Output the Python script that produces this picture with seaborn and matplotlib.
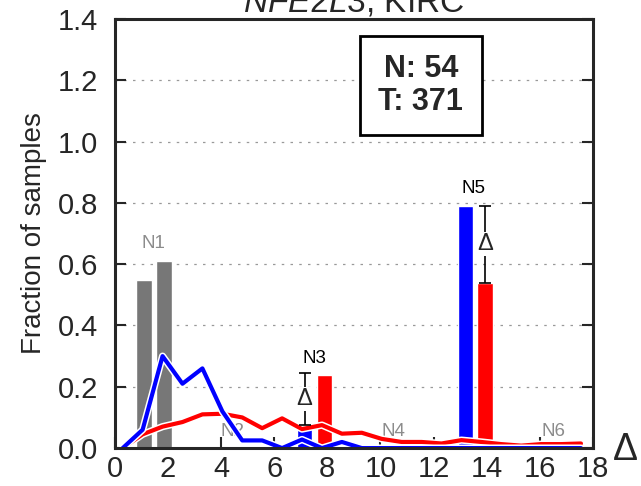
import numpy as np
import pandas as pd
import seaborn as sns
import matplotlib.pyplot as plt
import matplotlib.patheffects as pe

# datos de las curvas (bins de 0.75 en delta)
delta = [0.3, 1.05, 1.8, 2.55, 3.3, 4.05, 4.8, 5.55, 6.3, 7.05, 7.8, 8.55,
         9.3, 10.05, 10.8, 11.55, 12.3, 13.05, 13.8, 14.55, 15.3, 16.05, 16.8, 17.55]
normal_frac = [0.0, 0.06, 0.30, 0.21, 0.26, 0.12, 0.025, 0.025, 0.0, 0.028, 0.0, 0.02,
               0.0, 0.0, 0.0, 0.0, 0.0, 0.0, 0.0, 0.0, 0.0, 0.0, 0.0, 0.0]
tumor_frac = [0.0, 0.045, 0.07, 0.085, 0.11, 0.112, 0.10, 0.065, 0.097, 0.062, 0.075, 0.047,
              0.05, 0.03, 0.02, 0.02, 0.015, 0.026, 0.02, 0.013, 0.008, 0.013, 0.013, 0.015]

# barras
gray_x = [1.1, 1.85]
gray_h = [0.55, 0.61]
blue_x = [7.15, 13.2]
blue_h = [0.075, 0.79]
red_x = [7.9, 13.93]
red_h = [0.24, 0.54]

# etiquetas de picos
peak_labels = ['N1', 'N2', 'N3', 'N4', 'N5', 'N6']
peak_x = [1.45, 4.45, 7.5, 10.5, 13.5, 16.5]
peak_y = [0.64, 0.025, 0.265, 0.025, 0.82, 0.025]
peak_col = ['#8c8c8c', '#8c8c8c', 'black', '#8c8c8c', 'black', '#8c8c8c']

n_normal = 54
n_tumor = 371

sns.set_style("ticks")
plt.rcParams['font.family'] = ['Liberation Sans', 'DejaVu Sans']
plt.rcParams['mathtext.fontset'] = 'custom'
plt.rcParams['mathtext.it'] = 'Liberation Sans:italic'
plt.rcParams['mathtext.rm'] = 'Liberation Sans'

fig = plt.figure(figsize=(6.41, 4.86), dpi=100)
ax = fig.add_axes([0.179, 0.078, 0.746, 0.883])

ax.yaxis.grid(True, linestyle=(0, (2, 5)), color='#999999', lw=0.9, zorder=0)
ax.set_axisbelow(True)

w = 0.58
ax.bar(gray_x, gray_h, width=w, color='#777777', zorder=2)
ax.bar(blue_x, blue_h, width=w, color='#0000ff', zorder=2)
ax.bar(red_x, red_h, width=w, color='#ff0000', zorder=2)

df = pd.DataFrame({'delta': delta, 'normal': normal_frac, 'tumor': tumor_frac})
stroke = [pe.Stroke(linewidth=5.2, foreground='white'), pe.Normal()]
sns.lineplot(data=df, x='delta', y='tumor', color='#ff0000', lw=3, ax=ax, zorder=3,
             path_effects=stroke)
sns.lineplot(data=df, x='delta', y='normal', color='#0000ff', lw=3, ax=ax, zorder=4,
             path_effects=stroke)

# barras de diferencia (delta)
for xe, lo, hi in [(7.15, 0.075, 0.245), (13.95, 0.54, 0.79)]:
    ax.errorbar(xe, (lo + hi) / 2, yerr=(hi - lo) / 2, color='black', lw=1.2,
                capsize=4, capthick=1.2, zorder=5)
    ax.text(xe, (lo + hi) / 2, 'Δ', ha='center', va='center', fontsize=17, zorder=6,
            bbox=dict(boxstyle='square,pad=0.05', fc='white', ec='none'))

for lab, xl, yl, c in zip(peak_labels, peak_x, peak_y, peak_col):
    ax.text(xl, yl, lab, ha='center', va='bottom', fontsize=13.5, color=c, zorder=1)

ax.text(0.64, 0.845, f'N: {n_normal}\nT: {n_tumor}', transform=ax.transAxes,
        ha='center', va='center', fontsize=22, fontweight='bold', linespacing=1.1,
        zorder=7, bbox=dict(boxstyle='square,pad=0.6', fc='white', ec='black', lw=2))

ax.set_xlim(0, 18)
ax.set_ylim(0, 1.4)
ax.set_xticks(np.arange(0, 19, 2))
ax.set_yticks(np.arange(0, 1.41, 0.2))
ax.set_yticklabels([f'{v:.1f}' for v in np.arange(0, 1.41, 0.2)])
ax.tick_params(direction='in', length=8, width=1.5, labelsize=21, pad=5,
               right=True, top=False)
ax.tick_params(axis='y', pad=12)
for s in ax.spines.values():
    s.set_linewidth(2.2)
    s.set_zorder(8)

ax.set_xlabel('')
ax.set_ylabel('Fraction of samples', fontsize=20, labelpad=8)
ax.text(1.068, -0.005, 'Δ', transform=ax.transAxes, fontsize=27, ha='center', va='center')
ax.set_title(r'$\it{NFE2L3}$, KIRC', fontsize=24, pad=2)

fig.savefig('out.png', dpi=100)
